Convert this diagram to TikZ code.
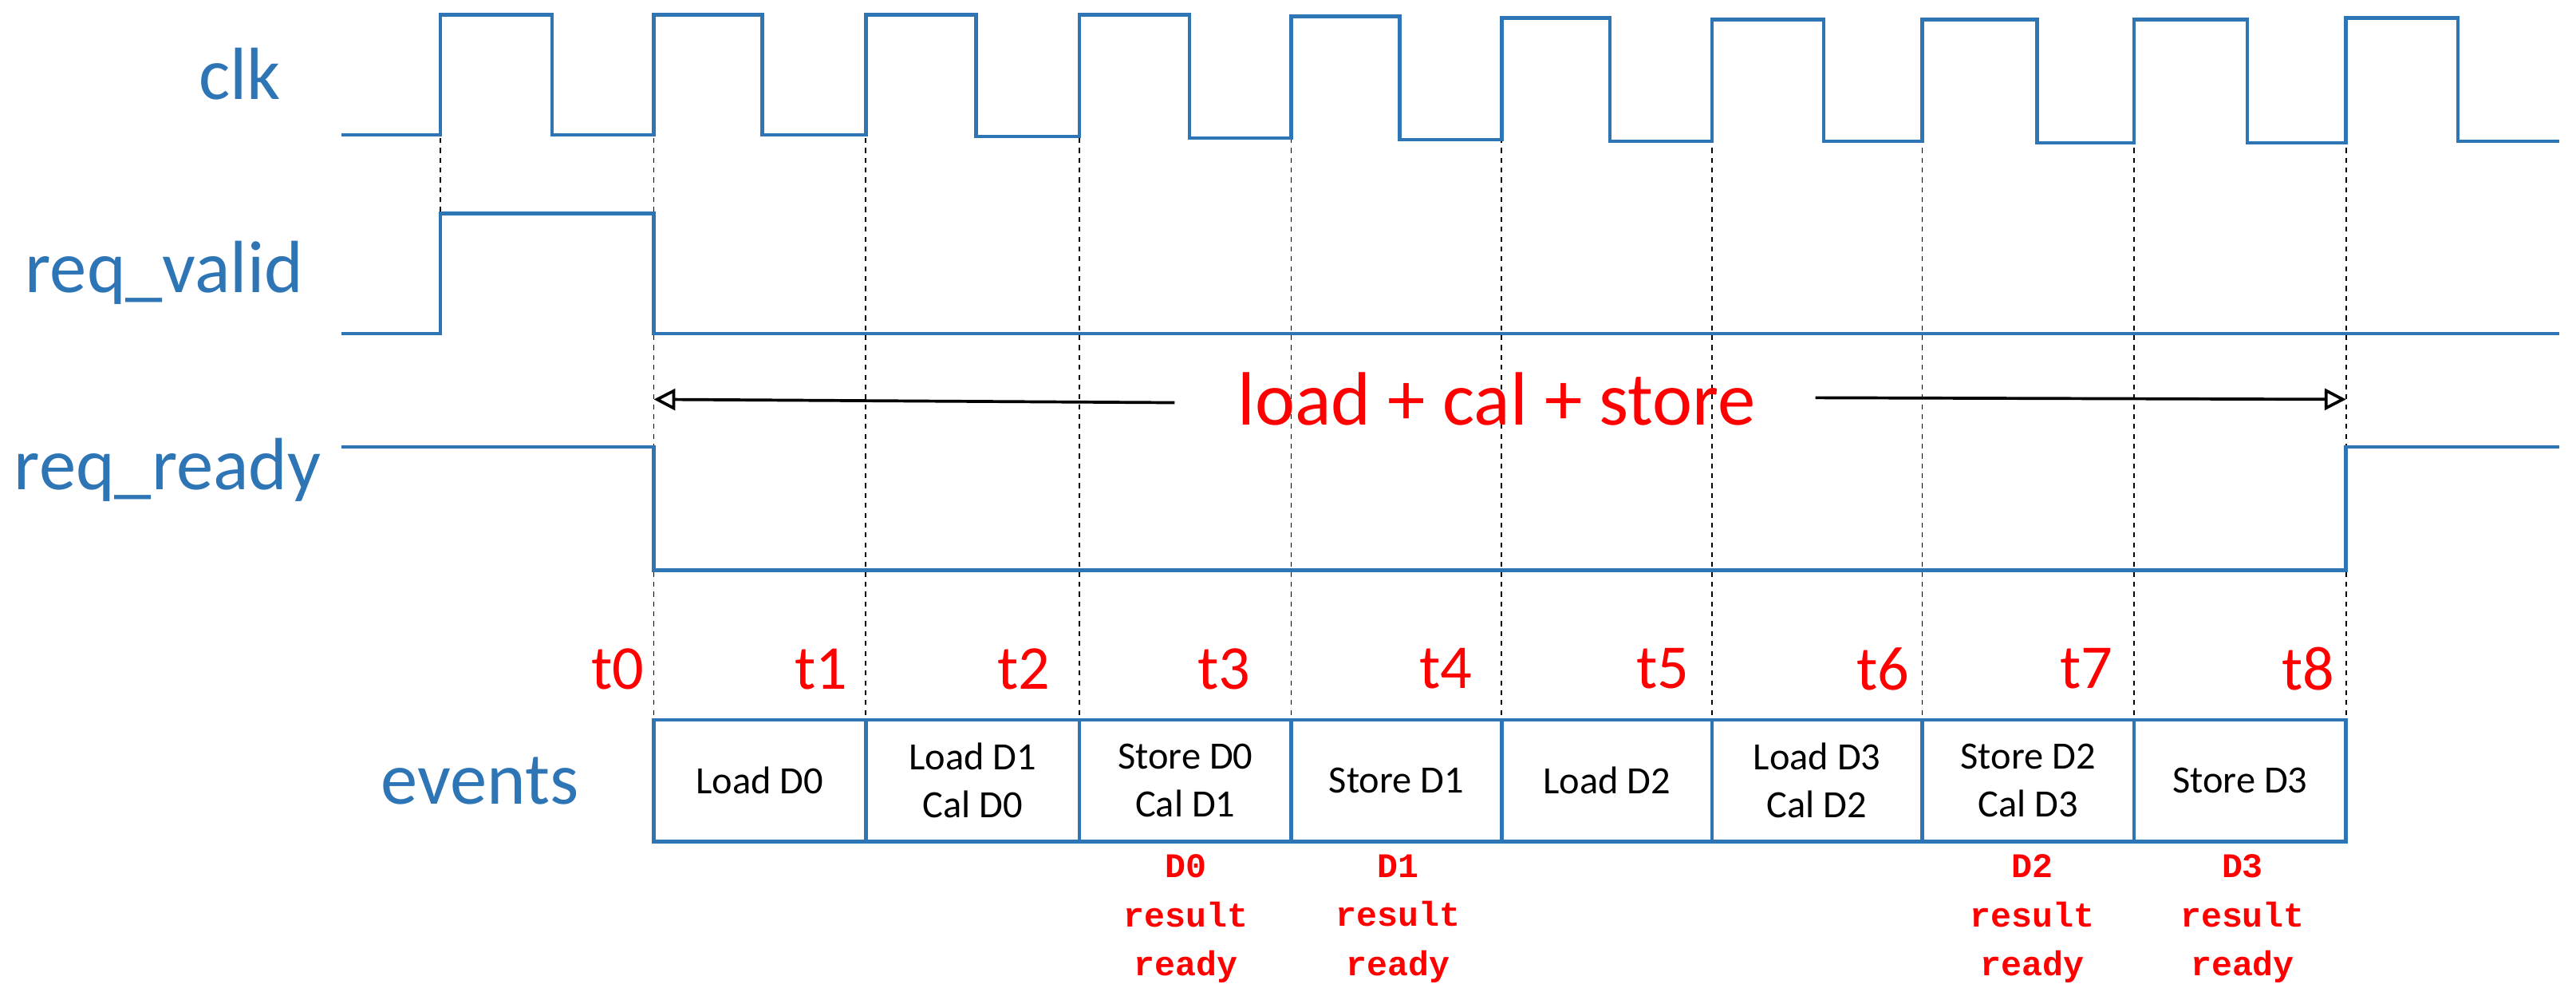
\documentclass[tikz,border=0pt]{standalone}
\usepackage{fontspec}
\setmainfont{Carlito}
\newfontfamily\monof{Liberation Mono}
\usetikzlibrary{arrows.meta}
\definecolor{wblue}{RGB}{46,117,182}
\definecolor{wred}{RGB}{255,0,0}
\begin{document}
\begin{tikzpicture}[x=1pt,y=-1pt,
  wave/.style={wblue,line width=2.2pt},
  sig/.style={wblue,font=\fontsize{45}{50}\selectfont},
  tl/.style={wred,font=\fontsize{38}{42}\selectfont},
  ev/.style={draw=wblue,line width=2.2pt,minimum height=74pt,inner sep=0pt,font=\fontsize{23.5}{29}\selectfont,align=center},
  res/.style={wred,font=\monof\bfseries\fontsize{21}{30}\selectfont,align=center},
  dl/.style={black,dashed,line width=0.8pt}]
\useasboundingbox (0,0) rectangle (1568,608);
% dashed guides
\draw[dl] (268,84) -- (268,203);
\foreach \x in {398,527,657,786,914,1042,1170,1299,1428}{\draw[dl] (\x,84) -- (\x,438);}
% clk
\draw[wave] (208,82) -- (268,82) -- (268,9) -- (336,9) -- (336,82) -- (398,82) -- (398,9) -- (464,9) -- (464,82) -- (527,82) -- (527,9) -- (594,9) -- (594,83) -- (657,83) -- (657,9) -- (724,9) -- (724,84) -- (786,84) -- (786,10) -- (852,10) -- (852,85) -- (914,85) -- (914,11) -- (980,11) -- (980,86) -- (1042,86) -- (1042,12) -- (1110,12) -- (1110,86) -- (1170,86) -- (1170,12) -- (1240,12) -- (1240,87) -- (1299,87) -- (1299,12) -- (1368,12) -- (1368,87) -- (1428,87) -- (1428,11) -- (1496,11) -- (1496,86) -- (1558,86);
% req_valid
\draw[wave] (208,203) -- (268,203) -- (268,130) -- (398,130) -- (398,203) -- (1558,203);
% req_ready
\draw[wave] (208,272) -- (398,272) -- (398,347) -- (1428,347) -- (1428,272) -- (1558,272);
% labels
\node[sig] (lclk) at (146,45) {clk};
\node[sig] (lvalid) at (100,166) {req\_valid};
\node[sig] (lready) at (102,286) {req\_ready};
\node[sig] (lev) at (292,475) {events};
% arrow
\coordinate (aL) at (398,243);
\coordinate (aR) at (1428,243);
\node[wred,font=\fontsize{46}{50}\selectfont] (lcs) at (911,243) {load + cal + store};
\draw[-{Triangle[open,length=13pt,width=13pt]},line width=1.8pt] (715,245) -- (aL);
\draw[-{Triangle[open,length=13pt,width=13pt]},line width=1.8pt] (1105,242) -- (aR);
% t labels
\foreach \n/\x in {0/376,1/500,2/623,3/745,4/880,5/1012,6/1146,7/1270,8/1405}{\node[tl] (t\n) at (\x,407) {t\n};}
% events
\node[ev,minimum width=129pt] (e0) at (462.5,475) {Load D0};
\node[ev,minimum width=130pt] (e1) at (592,475) {Load D1\\Cal D0};
\node[ev,minimum width=129pt] (e2) at (721.5,475) {Store D0\\Cal D1};
\node[ev,minimum width=128pt] (e3) at (850,475) {Store D1};
\node[ev,minimum width=128pt] (e4) at (978,475) {Load D2};
\node[ev,minimum width=128pt] (e5) at (1106,475) {Load D3\\Cal D2};
\node[ev,minimum width=129pt] (e6) at (1234.5,475) {Store D2\\Cal D3};
\node[ev,minimum width=129pt] (e7) at (1363.5,475) {Store D3};
\node[res] (r0) at (722,559) {D0\\result\\ready};
\node[res] (r1) at (851,559) {D1\\result\\ready};
\node[res] (r2) at (1237,559) {D2\\result\\ready};
\node[res] (r3) at (1365,559) {D3\\result\\ready};
\end{tikzpicture}
\end{document}
